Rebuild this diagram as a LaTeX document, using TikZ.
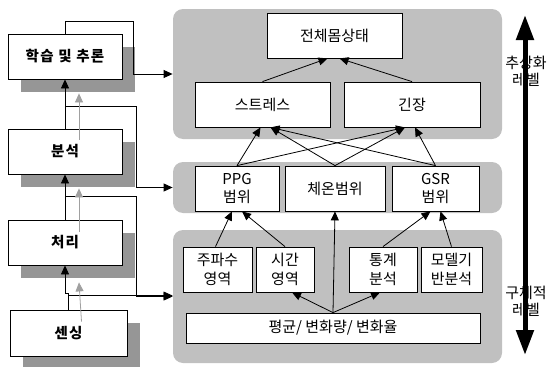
\documentclass[tikz,border=0pt]{standalone}
\usepackage{fontspec}
\setmainfont{Noto Sans CJK KR}
\newfontfamily\stagefont{Noto Sans CJK KR}[LetterSpace=9]
\usetikzlibrary{arrows.meta,shadows}
\definecolor{panelgray}{RGB}{192,192,192}
\definecolor{shadegray}{RGB}{150,150,150}
\definecolor{feedgray}{RGB}{160,160,160}
\tikzset{
  panel/.style={fill=panelgray,rounded corners=10pt,inner sep=0pt},
  box/.style={draw,fill=white,inner sep=0pt,align=center,minimum height=45pt},
  stagebox/.style={box,font=\stagefont\fontsize{14.5}{17}\selectfont\bfseries,minimum width=114pt,
    drop shadow={shadow xshift=13pt,shadow yshift=-13pt,opacity=1,fill=shadegray}},
  feed/.style={->,feedgray},
  levelarrow/.style={{Triangle[length=25pt,width=17pt]}-{Triangle[length=25pt,width=17pt]},line width=5pt}
}
\begin{document}
\begin{tikzpicture}[x=1pt,y=-1pt,>={Triangle[length=9pt,width=8pt]},
    font=\fontsize{15}{18.5}\selectfont,line width=0.8pt]
  \useasboundingbox (0,0) rectangle (547,367);
  % panels
  \draw
    (337.5,74) node[panel,minimum width=329pt,minimum height=130pt] (abst){}
    (337.5,187.5) node[panel,minimum width=329pt,minimum height=51pt] (range){}
    (337.5,296.5) node[panel,minimum width=329pt,minimum height=133pt] (feat){};
  % stages
  \draw
    (65,56.5) node[stagebox] (learn){학습 및 추론}
    (65,151.5) node[stagebox] (anal){분석}
    (65,242.5) node[stagebox] (proc){처리}
    (68.5,333) node[stagebox,minimum width=117pt,minimum height=46pt] (sens){센싱};
  % boxes
  \draw
    (334.5,35.5) node[box,minimum width=135pt] (body){전체몸상태}
    (262.5,104.5) node[box,minimum width=135pt] (stress){스트레스}
    (412,104.5) node[box,minimum width=136pt] (tension){긴장}
    (237,188.5) node[box,minimum width=84pt] (ppg){PPG\\범위}
    (335,188.5) node[box,minimum width=100pt] (temp){체온범위}
    (435.5,188.5) node[box,minimum width=87pt] (gsr){GSR\\범위}
    (217.5,269.5) node[box,minimum width=69pt] (freq){주파수\\영역}
    (285,269.5) node[box,minimum width=58pt] (time){시간\\영역}
    (383,269.5) node[box,minimum width=68pt] (stat){통계\\분석}
    (451.5,269.5) node[box,minimum width=61pt] (model){모델기\\반분석}
    (333,328) node[box,minimum width=294pt,minimum height=30pt] (mean){평균/ 변화량/ 변화율};
  \begin{scope}[->]
    \draw (stress.north) to ([xshift=-7pt]body.south);
    \draw (tension.north) to ([xshift=5pt]body.south);
    \draw (ppg.north) to ([xshift=-2pt]stress.south);
    \draw (ppg.north) to ([xshift=-7pt]tension.south);
    \draw (temp.north) to ([xshift=8pt]stress.south);
    \draw (temp.north) to ([xshift=-7pt]tension.south);
    \draw (gsr.north) to ([xshift=8pt]stress.south);
    \draw (gsr.north) to ([xshift=3pt]tension.south);
    \draw ([xshift=-2pt]freq.north) to ([xshift=-5pt]ppg.south);
    \draw (time.north) to ([xshift=5pt]ppg.south);
    \draw (mean.north) to (temp.south);
    \draw (mean.north) to ([xshift=7pt]time.south);
    \draw (mean.north) to ([xshift=-3pt]stat.south);
    \draw (stat.north) to ([xshift=-5pt]gsr.south);
    \draw (model.north) to ([xshift=5pt]gsr.south);
  \end{scope}
  % stage links
  \coordinate (sj) at ([yshift=14pt]sens.north);
  \begin{scope}[->]
    \draw (learn.north) |- ++(68,-12) |- (abst.west);
    \draw (anal.north) to (learn.south);
    \draw ([yshift=22pt]anal.north) -- ++(71,0) |- (range.west);
    \draw (proc.north) to (anal.south);
    \draw ([yshift=23pt]proc.north) -- ++(71,0) |- (feat.west);
    \draw (sens.north) -- ++(0,-16) -| (proc.south);
    \draw (sj) -- (sj -| feat.west);
  \end{scope}
  \draw[feed] ([xshift=14pt,yshift=-11pt]anal.north) -- ([xshift=14pt,yshift=-14pt]learn.south);
  \draw[feed] ([xshift=14pt,yshift=-12pt]proc.north) -- ([xshift=14pt,yshift=-14pt]anal.south);
  \draw[feed] ([xshift=13pt,yshift=-12pt]sens.north) -- ([xshift=14pt,yshift=-17pt]proc.south);
  % level scale
  \coordinate (hi) at (525,15);
  \coordinate (lo) at (525,355);
  \draw[levelarrow] (lo) -- (hi);
  \draw
    (526,71) node[align=center,font=\fontsize{15}{17}\selectfont] (abstlbl){추상화\\레벨}
    (526,301) node[align=center,font=\fontsize{15}{17}\selectfont] (conclbl){구체적\\레벨};
\end{tikzpicture}
\end{document}
